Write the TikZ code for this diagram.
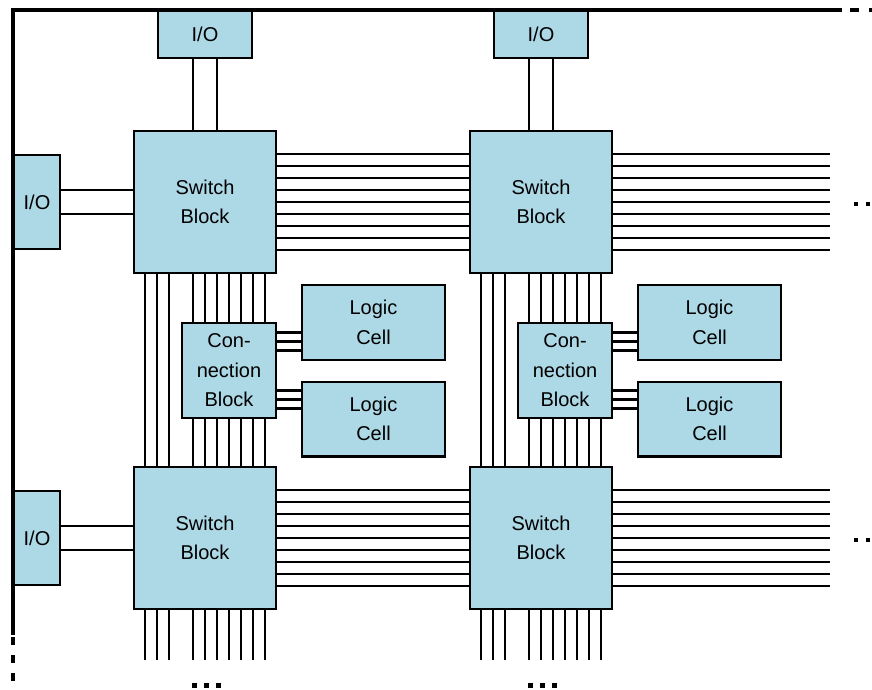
\documentclass[tikz,border=0pt]{standalone}
\usepackage{fontspec}
\setmainfont{Liberation Sans}
\usetikzlibrary{positioning}
\definecolor{cellblue}{RGB}{173,216,230}

\begin{document}
\begin{tikzpicture}[x=1pt, y=-1pt, line width=2.2pt,
    blk/.style={draw, fill=cellblue, align=center, inner sep=0pt,
      font=\fontsize{20}{29.5}\selectfont},
    sbox/.style={blk, minimum width=141.8pt, minimum height=141.8pt},
    cbox/.style={blk, minimum width=93.8pt, minimum height=94.6pt},
    lcell/.style={blk, minimum width=142.8pt, minimum height=74.8pt},
    iotop/.style={blk, minimum width=93.8pt, minimum height=46.8pt},
    ioleft/.style={blk, minimum width=45.8pt, minimum height=93.8pt},
    frame/.style={line width=4.4pt}]
  \useasboundingbox (0,0) rectangle (872,690);
  \coordinate (edgeR) at (830,0);
  \coordinate (edgeB) at (0,660);

  % switch blocks
  \foreach \c in {0,1}
    \foreach \r in {0,1}
      \node[sbox] (sb\c\r) at ({205+336*\c},{202+336*\r}) {Switch\\Block};

  % I/O pads
  \node[iotop] (iot0) [above=71pt of sb00] {I/O};
  \node[iotop] (iot1) [above=71pt of sb10] {I/O};
  \node[ioleft] (iol0) [left=72pt of sb00] {I/O};
  \node[ioleft] (iol1) [left=72pt of sb01] {I/O};

  % connection blocks and logic cells
  \foreach \c in {0,1} {
    \node[cbox] (cb\c) at ({229+336*\c},370.5) {Con-\\nection\\Block};
    \node[lcell] (lca\c) [right=24pt of cb\c, yshift=48pt] {Logic\\Cell};
    \node[lcell] (lcb\c) [right=24pt of cb\c, yshift=-48.5pt] {Logic\\Cell};
    \foreach \d in {-38,-29,-20}
      \draw (cb\c.east) ++(0,\d) coordinate (w) -- (w -| lca\c.west);
    \foreach \d in {20,29,38}
      \draw (cb\c.east) ++(0,\d) coordinate (w) -- (w -| lcb\c.west);
  }

  % I/O wires
  \foreach \c in {0,1}
    \foreach \d in {-12,12}
      \draw (iot\c.south) ++(\d,0) coordinate (w) -- (w |- sb\c0.north);
  \foreach \r in {0,1}
    \foreach \d in {-12,12}
      \draw (iol\r.east) ++(0,\d) coordinate (w) -- (w -| sb0\r.west);

  % horizontal tracks
  \foreach \r in {0,1}
    \foreach \d in {-48,-36,...,48} {
      \draw (sb0\r.east) ++(0,\d) coordinate (w) -- (w -| sb1\r.west);
      \draw (sb1\r.east) ++(0,\d) coordinate (w) -- (w -| edgeR);
    }

  % vertical tracks
  \foreach \c in {0,1} {
    \foreach \d in {-60,-48,-36} {
      \draw (sb\c0.south) ++(\d,0) coordinate (w) -- (w |- sb\c1.north);
      \draw (sb\c1.south) ++(\d,0) coordinate (w) -- (w |- edgeB);
    }
    \foreach \d in {-12,0,...,60} {
      \draw (sb\c0.south) ++(\d,0) coordinate (w) -- (w |- cb\c.north);
      \draw (cb\c.south) ++(\d-24,0) coordinate (w) -- (w |- sb\c1.north);
      \draw (sb\c1.south) ++(\d,0) coordinate (w) -- (w |- edgeB);
    }
  }

  % chip edge
  \draw[frame] (13,635) |- (842,10);
  \draw[frame, dash pattern=on 9pt off 10pt] (850,10) -- (872,10);
  \draw[frame, dash pattern=on 8pt off 10pt] (13,637) -- (13,690);

  % continuation dots
  \foreach \y in {202,538}
    \foreach \x in {854,866}
      \fill (\x,\y) rectangle ++(4,4);
  \foreach \c in {0,1}
    \foreach \x in {192,204,216}
      \fill ({\x+336*\c},683) rectangle ++(5,5);
\end{tikzpicture}
\end{document}
